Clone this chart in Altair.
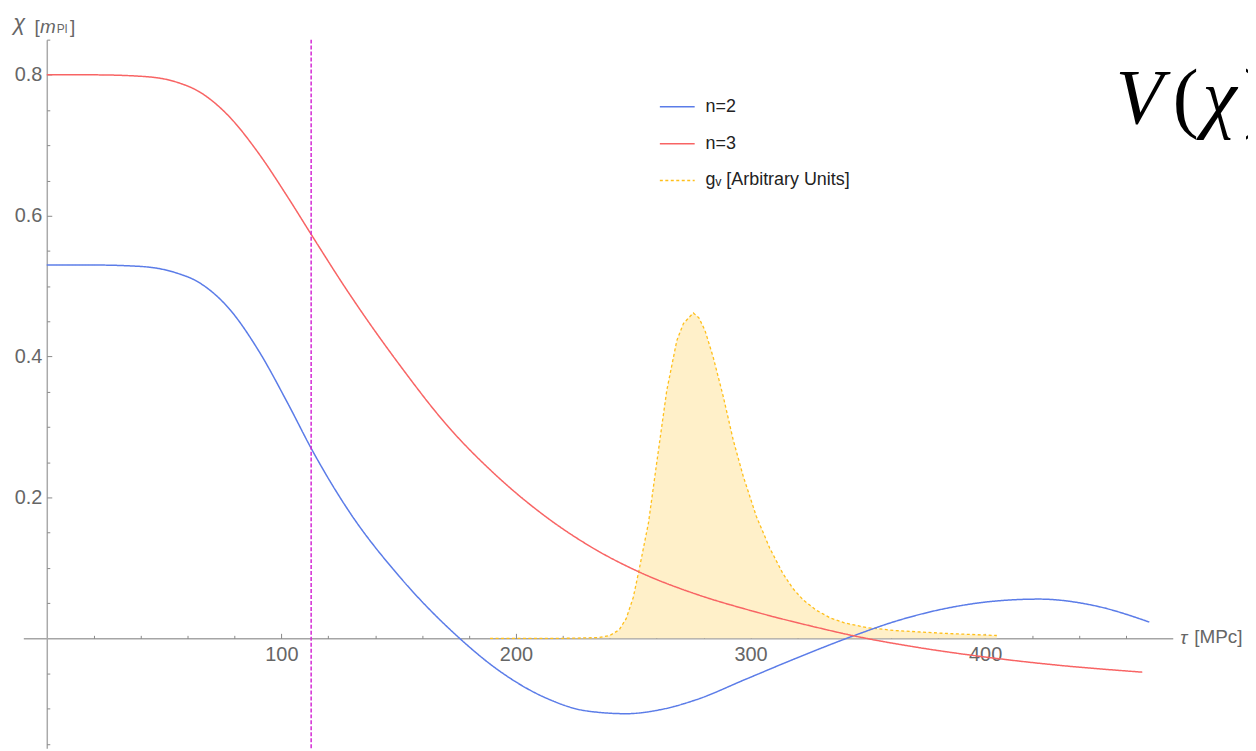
import altair as alt
import pandas as pd

# ---------------- data ----------------
tau_n2 = [0, 20, 40, 55, 65, 78, 90, 103, 113, 129, 150, 175, 192, 213, 230,
          247, 262, 277, 298, 320, 344, 362, 383, 404, 423, 447, 470]
chi_n2 = [0.530, 0.530, 0.528, 0.519, 0.505, 0.467, 0.410, 0.332, 0.268, 0.1795,
          0.089, 0.003, -0.044, -0.085, -0.103, -0.107, -0.101, -0.087, -0.058,
          -0.0275, 0.0037, 0.0244, 0.0423, 0.0528, 0.0557, 0.0461, 0.0231]

tau_n3 = [0, 20, 40, 55, 65, 78, 90, 103, 113, 129, 150, 171, 192, 213, 235,
          252, 277, 300, 328, 346, 370, 400, 430, 467]
chi_n3 = [0.800, 0.800, 0.798, 0.790, 0.776, 0.740, 0.690, 0.625, 0.572, 0.489,
          0.390, 0.301, 0.230, 0.172, 0.124, 0.095, 0.0625, 0.0395, 0.0157,
          0.0022, -0.0122, -0.0265, -0.0378, -0.048]

tau_g = [189, 200, 220, 235, 240, 244, 247, 250, 252.3, 256.5, 260, 264.3, 268.6,
         271.4, 275.6, 278, 280.6, 284.1, 288.4, 292.6, 296.9, 302.5, 308.2,
         313.8, 318, 322.3, 328, 334, 340, 350, 362, 383, 405]
g_v = [0, 0, 0, 0.001, 0.004, 0.012, 0.028, 0.058, 0.094, 0.164, 0.249, 0.352,
       0.423, 0.447, 0.462, 0.455, 0.437, 0.399, 0.343, 0.282, 0.230, 0.173,
       0.128, 0.092, 0.071, 0.055, 0.040, 0.029, 0.022, 0.015, 0.011, 0.007, 0.004]

cutoff_tau = [112.7]

series_names = ["n=2", "n=3", "gᵥ [Arbitrary Units]"]
x_major = [100, 200, 300, 400]
x_minor = [20, 40, 60, 80, 120, 140, 160, 180, 220, 240, 260, 280,
           320, 340, 360, 380, 420, 440, 460]
y_major = [0.2, 0.4, 0.6, 0.8]
y_minor = [-0.15, -0.1, -0.05, 0.05, 0.1, 0.15, 0.25, 0.3, 0.35,
           0.45, 0.5, 0.55, 0.65, 0.7, 0.75, 0.85]

# ---------------- frames ----------------
gauss_df = pd.DataFrame({"tau": tau_g, "value": g_v, "series": series_names[2]})
curves_df = pd.concat([
    pd.DataFrame({"tau": tau_n2, "value": chi_n2, "series": series_names[0]}),
    pd.DataFrame({"tau": tau_n3, "value": chi_n3, "series": series_names[1]}),
], ignore_index=True)

# ---------------- layout ----------------
W, H = 1155, 712
X_DOMAIN = [-10, 480]
Y_DOMAIN = [-0.156, 0.85]
px_x = W / (X_DOMAIN[1] - X_DOMAIN[0])
px_y = H / (Y_DOMAIN[1] - Y_DOMAIN[0])
x0 = -X_DOMAIN[0] * px_x          # pixel of tau = 0
y0_top = Y_DOMAIN[1] * px_y       # pixel of chi = 0 from the top
y0_bottom = H - y0_top

FONT = "Liberation Sans"
LAB_COL = "#666666"
TICK_COL = "#888888"

xs = alt.Scale(domain=X_DOMAIN, nice=False, zero=False)
ys = alt.Scale(domain=Y_DOMAIN, nice=False, zero=False)

x_label_axis = alt.Axis(orient="bottom", offset=-y0_bottom, values=x_major,
                        ticks=False, tickSize=0, labelPadding=6, labelFontSize=20,
                        labelColor=LAB_COL, labelFont=FONT, domainColor="#777777",
                        domainWidth=1, grid=False, title=None, labelFlush=False,
                        labelOverlap=False)
y_label_axis = alt.Axis(orient="left", offset=-x0, values=y_major, format=".1f",
                        ticks=False, tickSize=0, labelPadding=5, labelFontSize=20,
                        labelColor=LAB_COL, labelFont=FONT, domainColor="#aaaaaa",
                        domainWidth=1.5, grid=False, title=None, labelFlush=False,
                        labelOverlap=False)


def tick_axis_x(vals, size):
    return alt.Axis(orient="top", offset=-y0_top, values=vals, tickSize=size,
                    tickColor=TICK_COL, tickWidth=1, labels=False, domain=False,
                    grid=False, title=None)


def tick_axis_y(vals, size):
    return alt.Axis(orient="right", offset=-(W - x0), values=vals, tickSize=size,
                    tickColor=TICK_COL, tickWidth=1, labels=False, domain=False,
                    grid=False, title=None)


color_scale = alt.Scale(domain=series_names, range=["#5b7ce8", "#f86464", "#ffbf1a"])
dash_scale = alt.Scale(domain=series_names, range=[[1, 0], [1, 0], [3, 2.5]])
legend = alt.Legend(title=None, orient="none", legendX=638.6, legendY=49,
                    labelFont=FONT, labelFontSize=18, labelColor="#222222",
                    labelOffset=10, padding=0, rowPadding=9, symbolSize=1225,
                    symbolStrokeWidth=1.5, symbolType="stroke")

area = alt.Chart(gauss_df).mark_area(color="#fff0c9", opacity=1, interpolate="linear").encode(
    x=alt.X("tau:Q", scale=xs, axis=x_label_axis),
    y=alt.Y("value:Q", scale=ys, axis=y_label_axis, stack=None),
    y2=alt.datum(0),
)

gauss_line = alt.Chart(gauss_df).mark_line(strokeWidth=1.3, interpolate="linear").encode(
    x=alt.X("tau:Q", scale=xs, axis=tick_axis_x(x_major, 5)),
    y=alt.Y("value:Q", scale=ys, axis=tick_axis_y(y_major, 5)),
    color=alt.Color("series:N", scale=color_scale, legend=legend),
    strokeDash=alt.StrokeDash("series:N", scale=dash_scale, legend=legend),
)

curves = alt.Chart(curves_df).mark_line(strokeWidth=1.5, interpolate="monotone").encode(
    x=alt.X("tau:Q", scale=xs, axis=tick_axis_x(x_minor, 3)),
    y=alt.Y("value:Q", scale=ys, axis=tick_axis_y(y_minor, 3)),
    color=alt.Color("series:N", scale=color_scale, legend=legend),
    strokeDash=alt.StrokeDash("series:N", scale=dash_scale, legend=legend),
)

rule = alt.Chart(pd.DataFrame({"tau": cutoff_tau})).mark_rule(
    color="#d42ad4", strokeDash=[4, 2], strokeWidth=1.5
).encode(x=alt.X("tau:Q", scale=xs, axis=None))

one = pd.DataFrame({"k": [0]})


def txt(text, x, y, size, style="normal", font=FONT, color=LAB_COL):
    return alt.Chart(one).mark_text(
        text=text, align="left", baseline="alphabetic", fontSize=size,
        fontStyle=style, font=font, color=color
    ).encode(x=alt.value(x), y=alt.value(y))


SERIF = "Liberation Serif"
texts = [
    # y-axis label  chi [m_Pl]
    txt("χ", -10.0, -10, 22, "italic"),
    txt("[", 11.2, -7, 19),
    txt("m", 16.8, -6.5, 19, "italic"),
    txt("Pl", 33.6, -6.5, 12),
    txt("]", 46.8, -7, 19),
    # x-axis label  tau [MPc]
    txt("τ", 1162.6, 607, 19, "italic"),
    txt("[MPc]", 1176.6, 606, 19),
    # big V(chi)
    txt("V", 1097.6, 84, 78, "italic", SERIF, "#000000"),
    txt("(", 1155.0, 84, 78, "normal", SERIF, "#000000"),
    txt("χ", 1185.0, 84, 78, "italic", SERIF, "#000000"),
    txt(")", 1226.0, 84, 78, "normal", SERIF, "#000000"),
]

chart = alt.layer(area, gauss_line, curves, rule, *texts).resolve_axis(
    x="independent", y="independent"
).properties(
    width=W, height=H,
    autosize=alt.AutoSizeParams(type="none"),
    padding={"left": 15.4, "top": 30, "right": 75.6, "bottom": 0},
    background="white",
).configure_view(stroke=None)

chart.save("out.html", embed_options={"renderer": "svg", "actions": False})
